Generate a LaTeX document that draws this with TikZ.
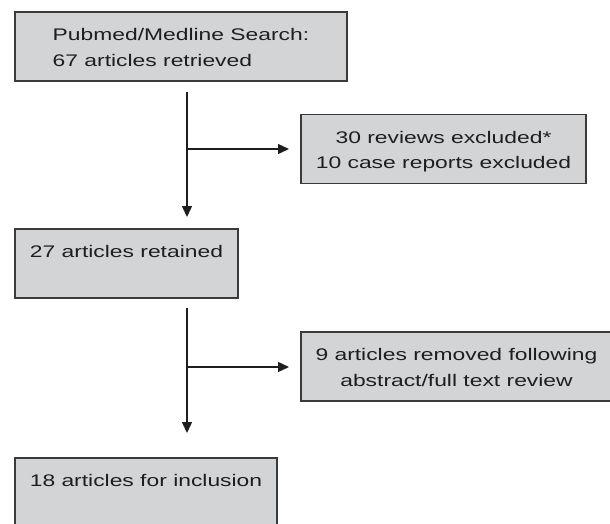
\documentclass[tikz,border=0pt]{standalone}
\usepackage{fontspec}
\setmainfont{Liberation Sans}[FakeStretch=1.36]
\usetikzlibrary{arrows.meta}
\definecolor{boxfill}{RGB}{211,212,214}
\definecolor{boxline}{RGB}{58,58,58}
\definecolor{inkcol}{RGB}{30,30,30}
\tikzstyle{stage}=[draw=boxline, fill=boxfill, line width=1.3pt, inner sep=0, outer sep=0,
                   minimum height=69pt, text height=12pt, text depth=24pt, text=inkcol,
                   % Same font size and line spacing in every box.
                   font=\fontsize{16.8}{25.5}\selectfont]
% Two lines: the node's baseline is the last one.
\tikzstyle{twoline}=[stage, text height=45pt, text depth=6pt]
\tikzstyle{flow}=[draw=inkcol, line width=1.3pt, -{Triangle[length=11pt,width=10pt]}]

\begin{document}
\begin{tikzpicture}[x=1pt, y=-1pt]
    \useasboundingbox (0,0) rectangle (610,523);
    \clip (0,0) rectangle (610,523);
        \node[twoline, minimum width=332pt, align=left]   (search) at (181,46.5)  {Pubmed/Medline Search:\\67 articles retrieved};
        \node[twoline, minimum width=285pt, align=center] (excl1)  at (443.5,149) {30 reviews excluded*\\10 case reports excluded};
        \node[stage, minimum width=223pt, align=center]   (kept)   at (126.5,263.5) {27 articles retained};
        \node[twoline, minimum width=311pt, align=center] (excl2)  at (456.5,366.5) {9 articles removed following\\abstract/full text review};
        \node[stage, minimum width=262pt, align=center]   (final)  at (146,492.5) {18 articles for inclusion};
        \coordinate (split1) at (187,149);
        \coordinate (split2) at (187,367);
        \draw[flow, shorten <=11pt, shorten >=12pt] (search.south -| split1) -- (kept.north -| split1);
        \draw[flow, shorten >=12pt] (split1) -- (split1 -| excl1.west);
        \draw[flow, shorten <=10pt, shorten >=25pt] (kept.south -| split2) -- (final.north -| split2);
        \draw[flow, shorten >=12pt] (split2) -- (split2 -| excl2.west);
    \end{tikzpicture}
\end{document}
